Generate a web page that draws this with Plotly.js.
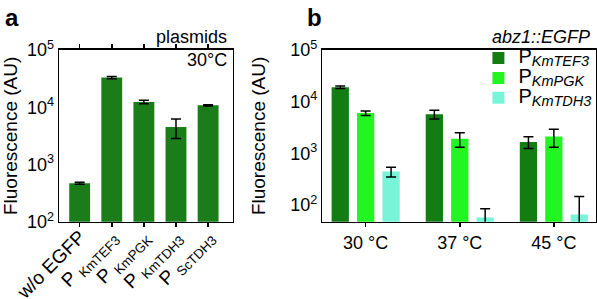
<!DOCTYPE html>
<html>
<head>
<meta charset="utf-8">
<script src="https://cdn.plot.ly/plotly-3.0.1.min.js"></script>
<style>html,body{margin:0;padding:0;background:#fff;}#chart{width:597px;height:299px;}</style>
</head>
<body>
<div id="chart"></div>
<script>
// Panel a: plasmids, 30°C
const aCategories = ["w/o EGFP", "P <sub>KmTEF3</sub>", "P <sub>KmPGK</sub>", "P <sub>KmTDH3</sub>", "P <sub>ScTDH3</sub>"];
const aValues = [473, 32900, 12400, 4540, 10800];
const aErrors = [20, 1500, 900, 1700, 300];

// Panel b: abz1::EGFP
const bCategories = ["30 °C", "37 °C", "45 °C"];
const bTEF3 = [19000, 5700, 1650];
const bTEF3Err = [1000, 1100, 420];
const bPGK = [6000, 1900, 2100];
const bPGKErr = [600, 600, 800];
const bTDH3 = [440, 57, 65];
const bTDH3ErrPlus = [95, 27, 80];
const bTDH3ErrMinus = [95, 27, 40];
const bNames = ["KmTEF3", "KmPGK", "KmTDH3"];

const yTickVals = [100, 1000, 10000, 100000];
const yTickText = ["10<sup>2</sup>", "10<sup>3</sup>", "10<sup>4</sup>", "10<sup>5</sup>"];

const FONT = "Liberation Sans, Arial, Helvetica, sans-serif";
const errStyle = {color: "#000", thickness: 1.5, width: 5};

function legendName(s) {
  return '<span style="font-size:20px">P</span><sub><span style="font-size:14.5px"><i>' + s + '</i></span></sub>';
}

const traces = [
  {type: "bar", x: aCategories, y: aValues, xaxis: "x", yaxis: "y",
   marker: {color: "#1a7d1a"}, width: 0.65, offset: -0.325, showlegend: false,
   error_y: Object.assign({type: "data", array: aErrors, visible: true}, errStyle)},
  {type: "bar", x: bCategories, y: bTEF3, xaxis: "x2", yaxis: "y2", name: legendName(bNames[0]),
   marker: {color: "#137d13"},
   error_y: Object.assign({type: "data", array: bTEF3Err, visible: true}, errStyle)},
  {type: "bar", x: bCategories, y: bPGK, xaxis: "x2", yaxis: "y2", name: legendName(bNames[1]),
   marker: {color: "#22f522"},
   error_y: Object.assign({type: "data", array: bPGKErr, visible: true}, errStyle)},
  {type: "bar", x: bCategories, y: bTDH3, xaxis: "x2", yaxis: "y2", name: legendName(bNames[2]),
   marker: {color: "#78f5d8"},
   error_y: Object.assign({type: "data", symmetric: false, array: bTDH3ErrPlus, arrayminus: bTDH3ErrMinus, visible: true}, errStyle)}
];

const axisCommon = {showline: true, linecolor: "#000", linewidth: 1.5, mirror: true,
  showgrid: false, zeroline: false, automargin: false};

const layout = {
  width: 597, height: 299,
  margin: {l: 0, r: 0, t: 0, b: 0},
  paper_bgcolor: "#fff", plot_bgcolor: "#fff",
  font: {family: FONT, color: "#000", size: 16},
  barmode: "group", bargap: 0.19, bargroupgap: 0.32,
  showlegend: true,
  legend: {x: 0.999, y: 0.856, xanchor: "right", yanchor: "top", bgcolor: "rgba(0,0,0,0)",
    font: {size: 13, family: FONT}, tracegroupgap: 0, itemwidth: 30},
  xaxis: Object.assign({}, axisCommon, {domain: [0.099, 0.390], anchor: "y",
    range: [-0.64, 4.77], tickangle: -45, ticks: "outside", ticklen: 4, tickwidth: 1.5,
    tickcolor: "#000", tickfont: {size: 19}, mirror: "allticks", ticklabelstandoff: -9}),
  yaxis: Object.assign({}, axisCommon, {domain: [0.258, 0.833], anchor: "x", type: "log",
    range: [2, 5], tickvals: yTickVals, ticktext: yTickText, ticks: "", tickfont: {size: 18},
    title: {text: "Fluorescence (AU)", font: {size: 19}, standoff: 5}}),
  xaxis2: Object.assign({}, axisCommon, {domain: [0.540, 0.998], anchor: "y2",
    range: [-0.46, 2.446], ticks: "outside", ticklen: 4, tickwidth: 1.5, tickcolor: "#000",
    tickfont: {size: 18}}),
  yaxis2: Object.assign({}, axisCommon, {domain: [0.258, 0.833], anchor: "x2", type: "log",
    range: [1.67, 5], tickvals: yTickVals, ticktext: yTickText, ticks: "", tickfont: {size: 18},
    title: {text: "Fluorescence (AU)", font: {size: 19}, standoff: 19}}),
  annotations: [
    {text: "<b>a</b>", x: 0.005, y: 0.94, xref: "paper", yref: "paper", xanchor: "left", yanchor: "middle", showarrow: false, font: {size: 24}},
    {text: "<b>b</b>", x: 0.511, y: 0.94, xref: "paper", yref: "paper", xanchor: "left", yanchor: "middle", showarrow: false, font: {size: 24}},
    {text: "plasmids", x: 0.384, y: 0.876, xref: "paper", yref: "paper", xanchor: "right", yanchor: "middle", showarrow: false, font: {size: 18}},
    {text: "30°C", x: 0.384, y: 0.80, xref: "paper", yref: "paper", xanchor: "right", yanchor: "middle", showarrow: false, font: {size: 18}},
    {text: "<i>abz1::EGFP</i>", x: 0.992, y: 0.876, xref: "paper", yref: "paper", xanchor: "right", yanchor: "middle", showarrow: false, font: {size: 18}}
  ]
};

Plotly.newPlot("chart", traces, layout, {displayModeBar: false, staticPlot: true});
</script>
</body>
</html>
